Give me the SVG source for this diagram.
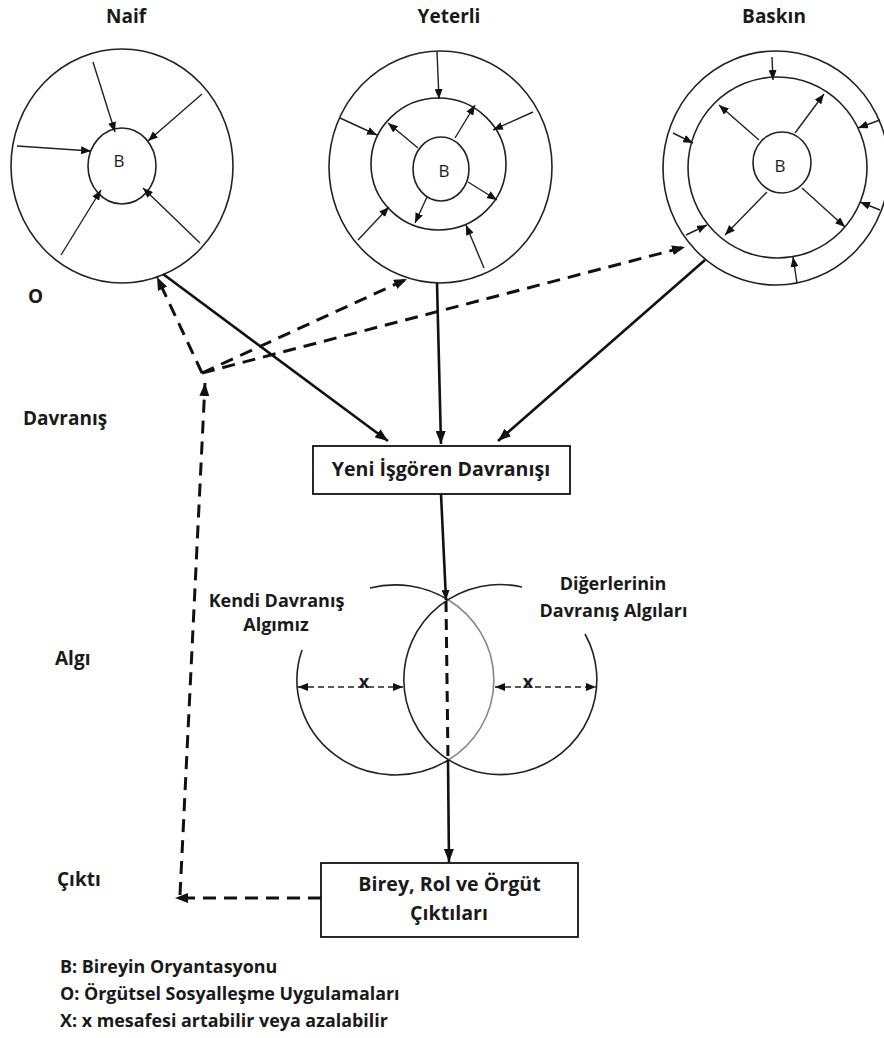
<svg xmlns="http://www.w3.org/2000/svg" width="884" height="1038" viewBox="0 0 884 1038">
<style>
text{font-family:"Open Sans","Liberation Sans",sans-serif;fill:#1a1a1a}
.lbl{font-size:19px;font-weight:700}
.sm{font-size:18px;font-weight:700}
.box{font-size:19.6px;font-weight:700}
.leg{font-size:17.9px;font-weight:700}
.b{font-size:17px;font-weight:400}
.ring{fill:none;stroke:#222;stroke-width:1.6}
.tin{stroke:#222;stroke-width:1.4;fill:none;marker-end:url(#ah)}
.sol{stroke:#111;stroke-width:2.6;fill:none;marker-end:url(#AH)}
.dsh{stroke:#111;stroke-width:3;fill:none;stroke-dasharray:13 8;marker-end:url(#AH)}
.xd{stroke:#222;stroke-width:1.6;fill:none;stroke-dasharray:6 4;marker-start:url(#ah);marker-end:url(#ah)}
rect.n{fill:#fff;stroke:#111;stroke-width:1.8}
</style>
<defs>
<marker id="ah" markerUnits="userSpaceOnUse" markerWidth="10" markerHeight="8" refX="10" refY="4" orient="auto-start-reverse"><path d="M0,0 L10,4 L0,8 z" fill="#111"/></marker>
<marker id="AH" markerUnits="userSpaceOnUse" markerWidth="13" markerHeight="10" refX="13" refY="5" orient="auto-start-reverse"><path d="M0,0 L13,5 L0,10 z" fill="#111"/></marker>
</defs>
<rect width="884" height="1038" fill="#fff"/>

<g id="labels-left">
<text class="lbl" x="28" y="303">O</text>
<text class="lbl" x="23" y="425">Davranış</text>
<text class="lbl" x="55" y="665">Algı</text>
<text class="lbl" x="57" y="886">Çıktı</text>
</g>

<g id="naif">
<text class="lbl" x="126" y="23" text-anchor="middle">Naif</text>
<ellipse class="ring" cx="122" cy="166" rx="111" ry="117"/>
<ellipse class="ring" cx="122" cy="166" rx="34" ry="38"/>
<text class="b" x="119" y="167" text-anchor="middle">B</text>
<line class="tin" x1="93" y1="62" x2="115" y2="132"/>
<line class="tin" x1="202" y1="94" x2="148" y2="141"/>
<line class="tin" x1="17" y1="146" x2="91" y2="151"/>
<line class="tin" x1="61" y1="255" x2="101" y2="190"/>
<line class="tin" x1="200" y1="243" x2="143" y2="188"/>
</g>

<g id="yeterli">
<text class="lbl" x="449" y="23" text-anchor="middle">Yeterli</text>
<ellipse class="ring" cx="440.5" cy="167" rx="111.5" ry="116"/>
<ellipse class="ring" cx="438.5" cy="164" rx="67.5" ry="66"/>
<ellipse class="ring" cx="441" cy="169" rx="28" ry="32"/>
<text class="b" x="444" y="177" text-anchor="middle">B</text>
<line class="tin" x1="437" y1="52" x2="439" y2="99"/>
<line class="tin" x1="340" y1="118" x2="377" y2="135"/>
<line class="tin" x1="533" y1="112" x2="493" y2="130"/>
<line class="tin" x1="358" y1="240" x2="389" y2="207"/>
<line class="tin" x1="484" y1="268" x2="466" y2="225"/>
<line class="tin" x1="418" y1="148" x2="388" y2="123"/>
<line class="tin" x1="455" y1="138" x2="475" y2="105"/>
<line class="tin" x1="468" y1="182" x2="497" y2="200"/>
<line class="tin" x1="427" y1="197" x2="415" y2="223"/>
</g>

<g id="baskin">
<text class="lbl" x="774" y="23" text-anchor="middle">Baskın</text>
<ellipse class="ring" cx="776" cy="168" rx="113" ry="117"/>
<ellipse class="ring" cx="777.5" cy="167.5" rx="89.5" ry="90.5"/>
<ellipse class="ring" cx="782" cy="162.5" rx="29" ry="30.5"/>
<text class="b" x="780" y="172" text-anchor="middle">B</text>
<line class="tin" x1="772" y1="57" x2="773" y2="80"/>
<line class="tin" x1="673" y1="133" x2="693" y2="143"/>
<line class="tin" x1="880" y1="120" x2="858" y2="128"/>
<line class="tin" x1="880" y1="210" x2="860" y2="202"/>
<line class="tin" x1="797" y1="283" x2="793" y2="257"/>
<line class="tin" x1="686" y1="235" x2="707" y2="225"/>
<line class="tin" x1="759" y1="140" x2="719" y2="105"/>
<line class="tin" x1="795" y1="133" x2="824" y2="94"/>
<line class="tin" x1="802" y1="188" x2="845" y2="227"/>
<line class="tin" x1="767" y1="192" x2="725" y2="235"/>
</g>

<g id="yeni-isgoren">
<rect class="n" x="313" y="446" width="257" height="48"/>
<text class="box" x="441" y="476" text-anchor="middle">Yeni İşgören Davranışı</text>
</g>

<g id="algi-venn">
<path class="ring" d="M302,650 A98.5,95 0 0 0 448.5,760"/>
<path d="M448.5,760 A98.5,95 0 0 0 448.5,600" fill="none" stroke="#888" stroke-width="1.6"/>
<path class="ring" d="M448.5,600 A98.5,95 0 0 0 370,588"/>
<path class="ring" d="M585,634 A96.5,95 0 1 1 522,587"/>
<line class="xd" x1="298" y1="687" x2="403" y2="687"/>
<line class="xd" x1="495" y1="687" x2="596" y2="687"/>
<text class="sm" x="364" y="688" text-anchor="middle">x</text>
<text class="sm" x="528" y="688" text-anchor="middle">x</text>
<text class="sm" x="276.5" y="607" text-anchor="middle">Kendi Davranış</text>
<text class="sm" x="276" y="631" text-anchor="middle">Algımız</text>
<text class="sm" x="613" y="590" text-anchor="middle">Diğerlerinin</text>
<text class="sm" x="613.5" y="617" text-anchor="middle">Davranış Algıları</text>
</g>

<g id="ciktilar">
<rect class="n" x="321" y="863" width="257" height="74"/>
<text class="box" x="449.5" y="891" text-anchor="middle">Birey, Rol ve Örgüt</text>
<text class="box" x="449" y="920" text-anchor="middle">Çıktıları</text>
</g>

<g id="legend">
<text class="leg" x="60" y="973">B: Bireyin Oryantasyonu</text>
<text class="leg" x="60" y="1000">O: Örgütsel Sosyalleşme Uygulamaları</text>
<text class="leg" x="60" y="1027">X: x mesafesi artabilir veya azalabilir</text>
</g>

<g id="connectors">
<line class="sol" x1="163" y1="274" x2="388" y2="441"/>
<line class="sol" x1="437" y1="283" x2="441" y2="444"/>
<line class="sol" x1="705" y1="260" x2="498" y2="441"/>
<line class="dsh" x1="202" y1="373" x2="157" y2="277"/>
<line class="dsh" x1="202" y1="373" x2="407" y2="279"/>
<line class="dsh" x1="202" y1="373" x2="685" y2="247"/>
<line class="dsh" x1="180" y1="895" x2="205" y2="383"/>
<line class="dsh" x1="321" y1="898" x2="175" y2="898"/>
<line stroke="#111" stroke-width="2.6" x1="441" y1="494" x2="446" y2="600" marker-end="url(#ah)"/>
<line stroke="#111" stroke-width="3" stroke-dasharray="11 7" x1="446" y1="601" x2="448" y2="760"/>
<line class="sol" x1="448" y1="760" x2="449" y2="862"/>
</g>
</svg>
